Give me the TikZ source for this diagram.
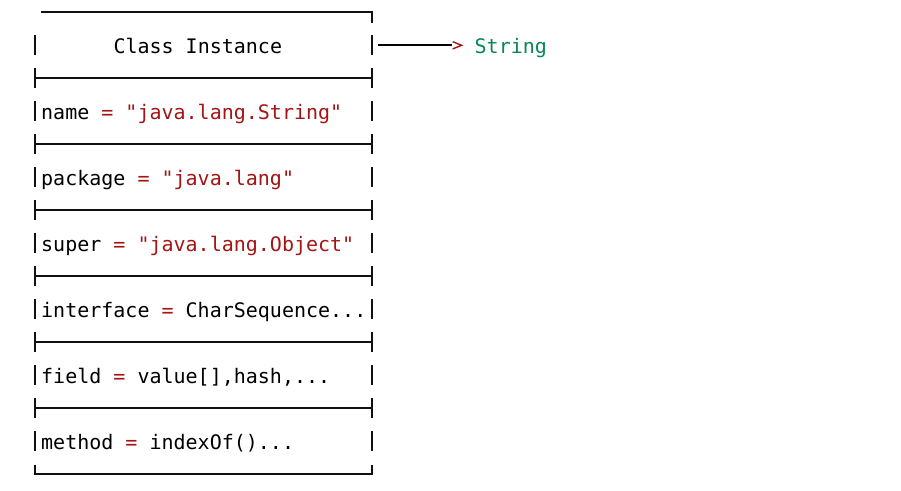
\documentclass[tikz,border=0pt]{standalone}
\usepackage{fontspec}
\newfontfamily\codefont{DejaVu Sans Mono}
\usetikzlibrary{arrows.meta}
\definecolor{kwred}{HTML}{A31515}
\definecolor{typegreen}{HTML}{098658}
\definecolor{framecol}{HTML}{111111}
\begin{document}
\begin{tikzpicture}[x=1pt,y=-1pt,
  txt/.style={anchor=base west,inner sep=0pt,font=\codefont\fontsize{20}{24}\selectfont,text=black},
  hline/.style={draw=framecol,line width=2.2pt},
  vbar/.style={draw=framecol,line width=1.6pt}]
\useasboundingbox (0,0) rectangle (901,490);
% frame
\draw[hline] (41,12.3) -- (372,12.3);
\draw[vbar] (372,11.2) -- (372,23);
\foreach \k in {1,...,6}{
  \pgfmathsetmacro{\yy}{12.3+66*\k}
  \draw[hline] (35,\yy) -- (372,\yy);
  \draw[vbar] (35,\yy-10) -- (35,\yy+10);
  \draw[vbar] (372,\yy-10) -- (372,\yy+10);
}
\foreach \k in {0,...,6}{
  \pgfmathsetmacro{\yy}{45.3+66*\k}
  \draw[vbar] (35,\yy-10) -- (35,\yy+10);
  \draw[vbar] (372,\yy-10) -- (372,\yy+10);
}
\draw[hline] (35,474.3) -- (372,474.3);
\draw[vbar] (35,464.5) -- (35,475.4);
\draw[vbar] (372,464.5) -- (372,475.4);
% texts
\node[txt] (title) at (113.3,53) {Class Instance};
\node[txt] (name) at (41,119) {name \textcolor{kwred}{= "java.lang.String"}};
\node[txt] (package) at (41,185) {package \textcolor{kwred}{= "java.lang"}};
\node[txt] (super) at (41,251) {super \textcolor{kwred}{= "java.lang.Object"}};
\node[txt] (interface) at (41,317) {interface \textcolor{kwred}{=} CharSequence...};
\node[txt] (field) at (41,383) {field \textcolor{kwred}{=} value[],hash,...};
\node[txt] (method) at (41,449) {method \textcolor{kwred}{=} indexOf()...};
\node[txt,text=typegreen] (string) at (474.5,53) {String};
% arrow
\coordinate (boxright) at (372,45.3);
\coordinate (tipend) at (461.7,45.3);
\draw[draw=black,line width=2pt,shorten <=6.2pt,shorten >=9.5pt] (boxright) -- (tipend);
\draw[draw=kwred,line width=1.4pt,line join=miter] (tipend) ++(-9,-3.6) -- (tipend) -- ++(-9,3.6);
\end{tikzpicture}
\end{document}
